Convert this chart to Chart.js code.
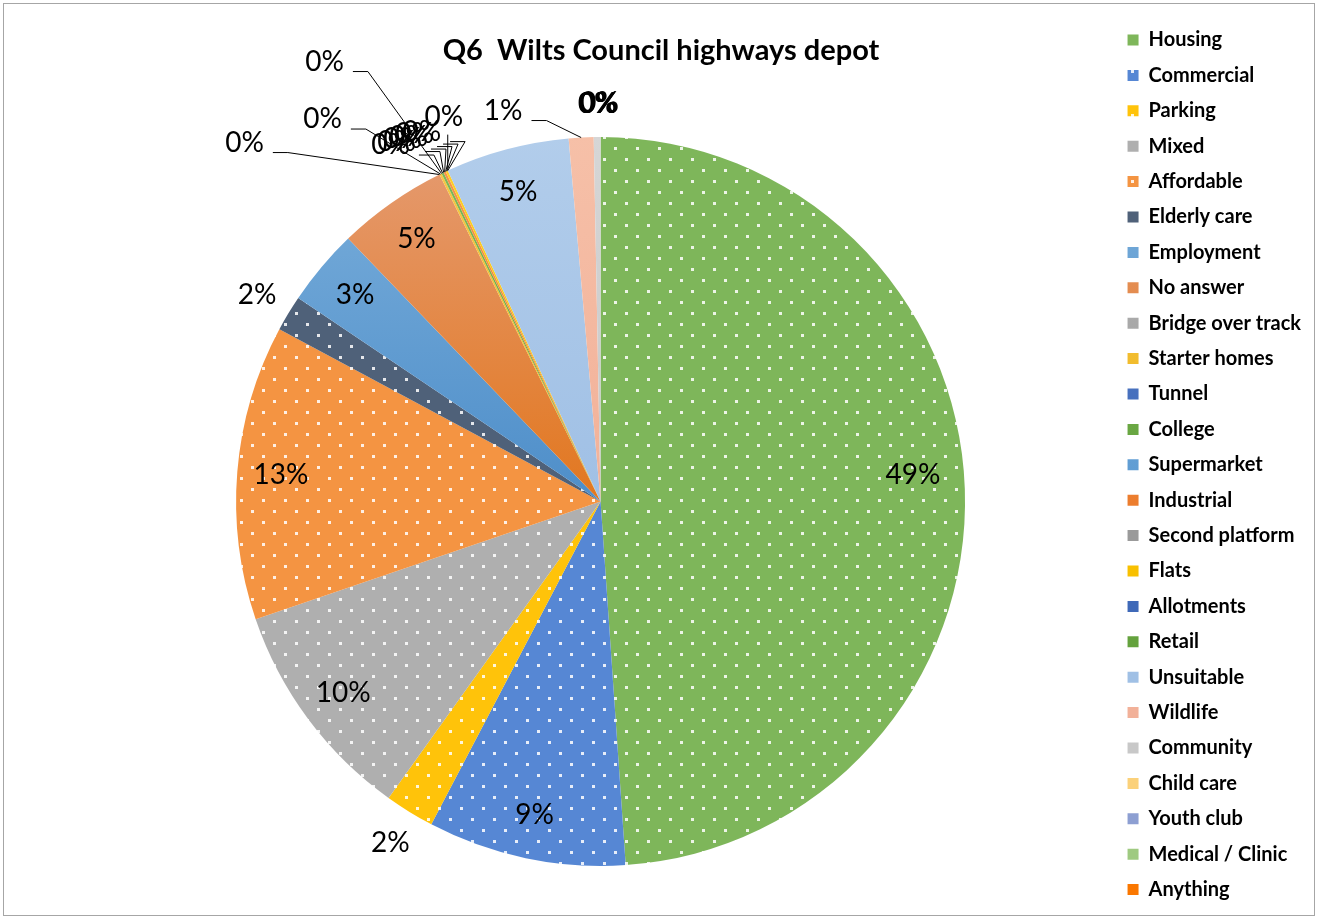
<!DOCTYPE html>
<html>
<head>
<meta charset="utf-8">
<title>Q6 Wilts Council highways depot</title>
<script src="https://cdn.jsdelivr.net/npm/chart.js@4.4.1/dist/chart.umd.min.js"></script>
<style>
  html, body { margin: 0; padding: 0; background: #fff; }
  canvas { display: block; }
</style>
</head>
<body>
<canvas id="chart" width="1318" height="919"></canvas>
<script>
const categories = [
  'Housing', 'Commercial', 'Parking', 'Mixed', 'Affordable', 'Elderly care',
  'Employment', 'No answer', 'Bridge over track', 'Starter homes', 'Tunnel',
  'College', 'Supermarket', 'Industrial', 'Second platform', 'Flats',
  'Allotments', 'Retail', 'Unsuitable', 'Wildlife', 'Community',
  'Child care', 'Youth club', 'Medical / Clinic', 'Anything'
]
const responses = [
  490, 88, 22, 99, 131, 16,
  34, 49, 0, 1, 0,
  1, 0, 1, 0, 1,
  0, 0, 55, 11, 3,
  0, 0, 0, 0
]

const total = responses.reduce((a, b) => a + b, 0)

// fill style per slice: [colour, 'dots'] or [light, dark] shaded top to bottom
const sliceFills = [
  ['#7eb65a', 'dots'], ['#5687d4', 'dots'], ['#ffc30a', 'dots'], ['#afafaf', 'dots'],
  ['#f49442', 'dots'], ['#4f6179', 'dots'],
  ['#7cb0dc', '#4e8ec9'], ['#e59c74', '#e2771f'], ['#b9b9b9', '#9a9a9a'],
  ['#f7c94a', '#eeb41c'], ['#5b82cc', '#3f69b8'], ['#80ba5a', '#64a23d'],
  ['#7eb4e2', '#5d9bd2'], ['#f7974f', '#ec7d2e'], ['#b9b9b9', '#9a9a9a'],
  ['#ffcf2e', '#f8c000'], ['#5b82cc', '#3f69b8'], ['#80ba5a', '#64a23d'],
  ['#b2cdeb', '#a0c0e5'], ['#f6c0a8', '#f2b199'], ['#d6d6d6', '#c8c8c8'],
  ['#ffdf9c', '#fbd17a'], ['#a3b4e0', '#8d9fd2'], ['#b6d89d', '#9fca81'],
  ['#ff8a1c', '#fa7700']
]

// labels pulled away from crowded slices, offset from the slice's rim point
const callouts = {
  'Bridge over track': { dx: -195, dy: -32 },
  'Starter homes': { dx: -118, dy: -55 },
  'Tunnel': { dx: -117, dy: -112 },
  'College': { dx: -52, dy: -28 },
  'Supermarket': { dx: -47, dy: -31 },
  'Industrial': { dx: -42, dy: -33 },
  'Second platform': { dx: -37, dy: -35 },
  'Flats': { dx: -32, dy: -37 },
  'Allotments': { dx: -26, dy: -39 },
  'Retail': { dx: -4, dy: -54 },
  'Wildlife': { dx: -78, dy: -27 },
  'Community': { dx: 0, dy: -33, plain: true },
  'Child care': { dx: -2, dy: -33, plain: true },
  'Youth club': { dx: -1, dy: -34, plain: true },
  'Medical / Clinic': { dx: -3, dy: -33, plain: true },
  'Anything': { dx: -2, dy: -33, plain: true }
}

function dots(colour) {
  const tile = document.createElement('canvas')
  tile.width = 22
  tile.height = 22
  const t = tile.getContext('2d')
  t.fillStyle = colour
  t.fillRect(0, 0, 22, 22)
  t.fillStyle = 'rgba(255,255,255,0.85)'
  t.fillRect(9, 4, 3, 3)
  t.fillRect(20, 15, 2, 3)
  t.fillRect(0, 15, 1, 3)
  return t.createPattern(tile, 'repeat')
}

const patterns = sliceFills.map(([c, kind]) => kind === 'dots' ? dots(c) : null)

function sliceFill(context) {
  const i = context.dataIndex
  const [light, dark] = sliceFills[i]
  if (patterns[i]) return patterns[i]
  const area = context.chart.chartArea
  if (!area) return dark
  const mid = (area.top + area.bottom) / 2
  const g = context.chart.ctx.createLinearGradient(0, area.top + 50, 0, mid)
  g.addColorStop(0, light)
  g.addColorStop(1, dark)
  return g
}

const frame = {
  id: 'frame',
  beforeDraw(chart) {
    const ctx = chart.ctx
    ctx.save()
    ctx.fillStyle = '#fff'
    ctx.fillRect(0, 0, chart.width, chart.height)
    ctx.strokeStyle = '#a6a6a6'
    ctx.lineWidth = 1
    ctx.strokeRect(3.5, 3.5, chart.width - 7, chart.height - 7)
    ctx.restore()
  }
}

const sliceLabels = {
  id: 'sliceLabels',
  afterDatasetsDraw(chart) {
    const ctx = chart.ctx
    const meta = chart.getDatasetMeta(0)
    ctx.save()
    ctx.font = '28px Lato'
    ctx.fillStyle = '#000'
    ctx.strokeStyle = '#000'
    ctx.lineWidth = 1
    ctx.textAlign = 'center'
    ctx.textBaseline = 'middle'

    meta.data.forEach((arc, i) => {
      const { x, y, startAngle, endAngle, outerRadius } =
        arc.getProps(['x', 'y', 'startAngle', 'endAngle', 'outerRadius'], true)
      const mid = (startAngle + endAngle) / 2
      const share = responses[i] / total
      const text = Math.round(share * 100) + '%'
      const rimX = x + Math.cos(mid) * outerRadius
      const rimY = y + Math.sin(mid) * outerRadius
      const call = callouts[categories[i]]

      if (call) {
        const lx = rimX + call.dx
        const ly = rimY + call.dy
        ctx.fillText(text, lx, ly)
        if (call.plain) return
        const half = ctx.measureText(text).width / 2
        ctx.beginPath()
        if (Math.abs(call.dx) < 20) {
          ctx.moveTo(lx + 4, ly + 18)
          ctx.lineTo(lx + 4, rimY - 2)
        } else {
          const sx = lx + half + 9
          const sy = ly + 10
          ctx.moveTo(sx, sy)
          ctx.lineTo(sx + 15, sy)
          ctx.lineTo(rimX, rimY)
        }
        ctx.stroke()
      } else if (share >= 0.025) {
        const r = outerRadius * (share > 0.3 ? 0.86 : 0.88)
        const a = share > 0.3 ? mid - 0.05 : mid
        ctx.fillText(text, x + Math.cos(a) * r, y + Math.sin(a) * r)
      } else {
        const r = outerRadius * 1.1
        ctx.fillText(text, x + Math.cos(mid) * r, y + Math.sin(mid) * r)
      }
    })
    ctx.restore()
  }
}

new Chart(document.getElementById('chart').getContext('2d'), {
  type: 'pie',
  data: {
    labels: categories,
    datasets: [{
      data: responses,
      backgroundColor: sliceFill,
      borderWidth: 0,
      radius: '87.3%'
    }]
  },
  options: {
    responsive: false,
    animation: false,
    layout: {
      padding: { top: 14.6, bottom: 0, left: 11, right: 7 }
    },
    plugins: {
      title: {
        display: true,
        text: 'Q6  Wilts Council highways depot',
        color: '#000',
        font: { family: 'Lato', size: 29, weight: 'bold' },
        padding: { top: 19, bottom: 15.6 }
      },
      // empty left box that keeps the pie clear of the frame's left side
      subtitle: {
        display: true,
        position: 'left',
        text: '',
        font: { size: 10 },
        padding: { top: 0, bottom: 66 }
      },
      legend: {
        position: 'right',
        align: 'start',
        labels: {
          color: '#000',
          font: { family: 'Lato', size: 20, weight: 'bold' },
          boxWidth: 11,
          boxHeight: 11,
          padding: 15.4
        }
      },
      tooltip: { enabled: false }
    }
  },
  plugins: [frame, sliceLabels]
})
</script>
</body>
</html>
